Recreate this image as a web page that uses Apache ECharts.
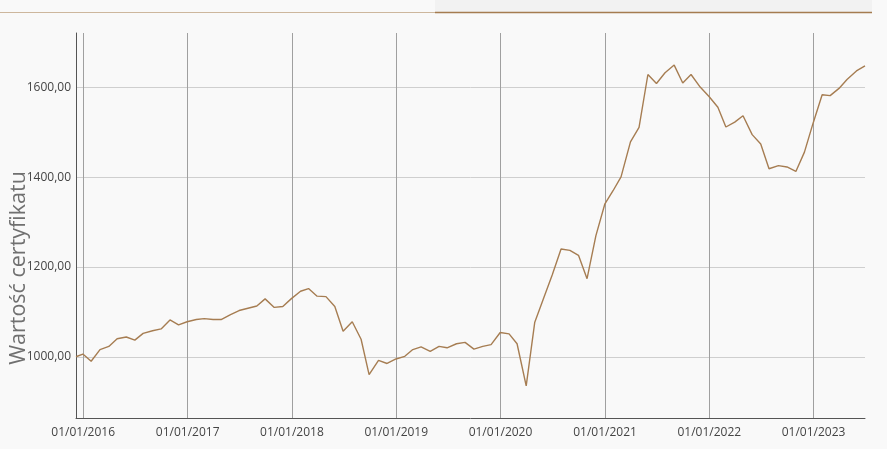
<!DOCTYPE html>
<html>
<head>
<meta charset="utf-8">
<script src="https://cdn.jsdelivr.net/npm/echarts@6/dist/echarts.min.js"></script>
<style>
html,body{margin:0;padding:0;background:#f9f9f9;}
#chart{width:887px;height:449px;}
</style>
</head>
<body>
<div id="chart"></div>
<script>
const dates = [
  '2015-12-07','2015-12-31',
  '2016-01-29','2016-02-29','2016-03-31','2016-04-29','2016-05-31','2016-06-30','2016-07-29','2016-08-31','2016-09-30','2016-10-31','2016-11-30','2016-12-30',
  '2017-01-31','2017-02-28','2017-03-31','2017-04-28','2017-05-31','2017-06-30','2017-07-31','2017-08-31','2017-09-29','2017-10-31','2017-11-30','2017-12-29',
  '2018-01-31','2018-02-28','2018-03-30','2018-04-30','2018-05-31','2018-06-29','2018-07-31','2018-08-31','2018-09-28','2018-10-31','2018-11-30','2018-12-31',
  '2019-01-31','2019-02-28','2019-03-29','2019-04-30','2019-05-31','2019-06-28','2019-07-31','2019-08-30','2019-09-30','2019-10-31','2019-11-29','2019-12-31',
  '2020-01-31','2020-02-28','2020-03-31','2020-04-30','2020-05-29','2020-06-30','2020-07-31','2020-08-31','2020-09-30','2020-10-30','2020-11-30','2020-12-31',
  '2021-01-29','2021-02-26','2021-03-31','2021-04-30','2021-05-31','2021-06-30','2021-07-30','2021-08-31','2021-09-30','2021-10-29','2021-11-30','2021-12-31',
  '2022-01-31','2022-02-28','2022-03-31','2022-04-29','2022-05-31','2022-06-30','2022-07-29','2022-08-31','2022-09-30','2022-10-31','2022-11-30','2022-12-30',
  '2023-01-31','2023-02-28','2023-03-31','2023-04-28','2023-05-31','2023-06-30'
];
const values = [
  1000, 1006,
  990, 1016, 1023, 1040, 1044, 1037, 1052, 1058, 1062, 1082, 1071, 1078,
  1083, 1085, 1083, 1083, 1094, 1103, 1108, 1113, 1129, 1110, 1112, 1129,
  1146, 1152, 1135, 1134, 1112, 1057, 1078, 1039, 960, 992, 985, 995,
  1001, 1016, 1022, 1012, 1023, 1020, 1029, 1032, 1017, 1023, 1027, 1054,
  1051, 1029, 935, 1077, 1127, 1182, 1240, 1237, 1226, 1174, 1270, 1340,
  1370, 1401, 1479, 1511, 1629, 1609, 1633, 1650, 1610, 1629, 1601, 1580,
  1556, 1512, 1523, 1537, 1495, 1474, 1419, 1426, 1423, 1413, 1456, 1520,
  1584, 1582, 1598, 1618, 1637, 1648
];
const yTicks = [1000, 1200, 1400, 1600];
const xTickYears = [2016, 2017, 2018, 2019, 2020, 2021, 2022, 2023];
const yAxisTitle = 'Wartość certyfikatu';

function toTs(s) {
  const p = s.split('-').map(Number);
  return new Date(p[0], p[1] - 1, p[2]).getTime();
}
const seriesData = dates.map((d, i) => [toTs(d), values[i]]);
const xTicks = xTickYears.map(y => new Date(y, 0, 1).getTime());
const dMin = Math.min.apply(null, values), dMax = Math.max.apply(null, values);
const pad = (dMax - dMin) * 0.1;

function pad2(n) { return (n < 10 ? '0' : '') + n; }

const chart = echarts.init(document.getElementById('chart'), null, {renderer: 'canvas'});
chart.setOption({
  animation: false,
  backgroundColor: '#f9f9f9',
  textStyle: {fontFamily: 'Open Sans'},
  grid: {left: 76, right: 22, top: 33, bottom: 31, containLabel: false},
  xAxis: {
    type: 'value',
    min: seriesData[0][0],
    max: seriesData[seriesData.length - 1][0],
    axisLine: {show: true, onZero: false, lineStyle: {color: '#555', width: 1}},
    axisTick: {show: false, customValues: xTicks},
    axisLabel: {
      customValues: xTicks,
      color: '#444', fontSize: 12, fontFamily: 'Open Sans', margin: 9,
      formatter: function (v) {
        const d = new Date(v);
        return pad2(d.getDate()) + '/' + pad2(d.getMonth() + 1) + '/' + d.getFullYear();
      }
    },
    splitLine: {show: true, lineStyle: {color: '#a0a0a0', width: 1}}
  },
  yAxis: {
    type: 'value',
    min: dMin - pad,
    max: dMax + pad,
    axisLine: {show: true, onZero: false, lineStyle: {color: '#555', width: 1}},
    axisTick: {show: false, customValues: yTicks},
    axisLabel: {
      customValues: yTicks,
      color: '#444', fontSize: 12, fontFamily: 'Open Sans', margin: 5,
      formatter: function (v) { return v.toFixed(2).replace('.', ','); }
    },
    splitLine: {show: true, lineStyle: {color: '#cfcfcf', width: 1}}
  },
  graphic: [
    {type: 'rect', shape: {x: 435, y: 0, width: 437, height: 12}, style: {fill: '#f2f2f2'}, silent: true},
    {type: 'line', shape: {x1: 0, y1: 12.5, x2: 435, y2: 12.5}, style: {stroke: '#cdb79d', lineWidth: 1.2}, silent: true},
    {type: 'line', shape: {x1: 435, y1: 12.5, x2: 872, y2: 12.5}, style: {stroke: '#a57c50', lineWidth: 1.4}, silent: true},
    {
      type: 'text', x: 19, y: 268, rotation: Math.PI / 2,
      style: {text: yAxisTitle, fill: '#707070', fontSize: 21.5, fontFamily: 'Open Sans', align: 'center', verticalAlign: 'middle'},
      silent: true
    }
  ],
  series: [{
    type: 'line',
    data: seriesData,
    showSymbol: false,
    symbol: 'none',
    lineStyle: {color: '#a67d52', width: 1.4},
    z: 3
  }]
});
</script>
</body>
</html>
